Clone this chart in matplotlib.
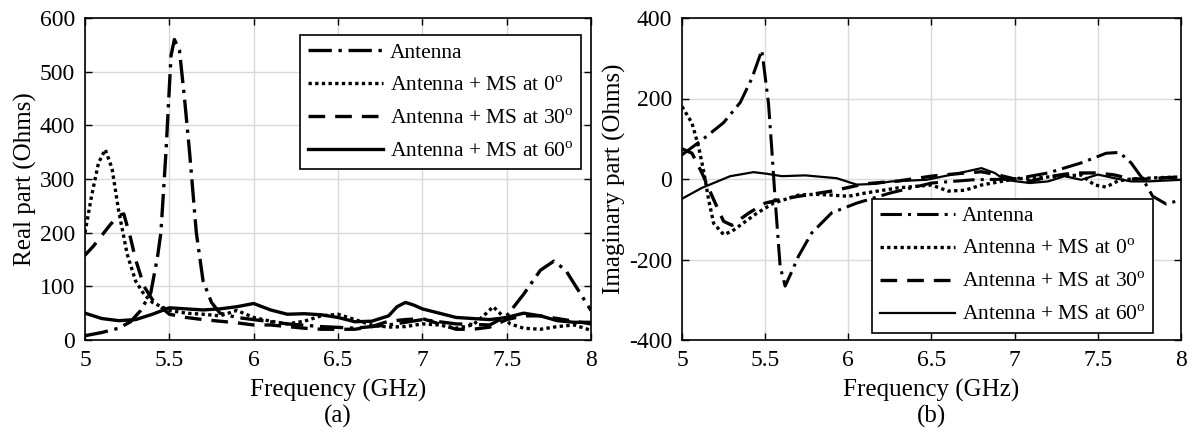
import numpy as np
import matplotlib
matplotlib.use("Agg")
import matplotlib.pyplot as plt

plt.rcParams["font.family"] = ["Liberation Serif", "DejaVu Serif"]
plt.rcParams["mathtext.fontset"] = "custom"
plt.rcParams["mathtext.rm"] = "Liberation Serif"
plt.rcParams["axes.unicode_minus"] = False

labels = ["Antenna", "Antenna + MS at 0$^{\\mathrm{o}}$",
          "Antenna + MS at 30$^{\\mathrm{o}}$", "Antenna + MS at 60$^{\\mathrm{o}}$"]

# (a) real part
re_ant_f = [5.0, 5.1, 5.2, 5.27, 5.33, 5.39, 5.43, 5.45, 5.48, 5.51, 5.53, 5.56, 5.59, 5.62, 5.66,
            5.70, 5.75, 5.8, 5.9, 6.0, 6.2, 6.4, 6.6, 6.8, 7.0, 7.2, 7.4, 7.5, 7.6, 7.7, 7.78,
            7.85, 7.92, 8.0]
re_ant = [8, 14, 22, 34, 55, 88, 155, 200, 350, 530, 560, 540, 450, 350, 200,
          110, 70, 50, 42, 38, 30, 25, 22, 28, 38, 30, 28, 45, 85, 130, 147,
          130, 95, 55]

re_ms0_f = [5.0, 5.04, 5.08, 5.12, 5.16, 5.2, 5.25, 5.3, 5.35, 5.4, 5.5, 5.6, 5.7, 5.8, 5.9, 6.0,
            6.1, 6.2, 6.3, 6.4, 6.5, 6.6, 6.7, 6.8, 6.9, 7.0, 7.1, 7.2, 7.3, 7.38, 7.42, 7.46,
            7.52, 7.6, 7.7, 7.8, 7.9, 8.0]
re_ms0 = [200, 270, 330, 355, 320, 240, 160, 110, 85, 70, 55, 50, 48, 45, 55, 42,
          35, 30, 35, 45, 48, 38, 28, 24, 25, 30, 28, 22, 28, 50, 62, 50,
          30, 22, 20, 25, 28, 18]

re_ms30_f = [5.0, 5.05, 5.1, 5.15, 5.2, 5.23, 5.27, 5.3, 5.35, 5.4, 5.5, 5.6, 5.7, 5.8, 5.9, 6.0,
             6.1, 6.2, 6.3, 6.4, 6.5, 6.6, 6.7, 6.8, 6.9, 7.0, 7.1, 7.2, 7.3, 7.4, 7.5, 7.6,
             7.7, 7.8, 7.9, 8.0]
re_ms30 = [158, 175, 195, 215, 232, 235, 190, 150, 100, 75, 48, 42, 38, 35, 32, 28,
           28, 25, 22, 20, 20, 20, 25, 35, 38, 40, 30, 20, 20, 24, 38, 45,
           45, 40, 35, 30]

re_ms60_f = [5.0, 5.1, 5.2, 5.3, 5.4, 5.5, 5.6, 5.7, 5.8, 5.9, 6.0, 6.1, 6.2, 6.3, 6.4, 6.5,
             6.6, 6.7, 6.8, 6.85, 6.9, 6.95, 7.0, 7.1, 7.2, 7.3, 7.4, 7.5, 7.6, 7.7, 7.8,
             7.9, 8.0]
re_ms60 = [50, 40, 36, 38, 48, 60, 58, 56, 58, 62, 68, 56, 48, 49, 47, 42,
           34, 35, 45, 62, 70, 65, 58, 50, 42, 40, 38, 42, 50, 45, 36,
           33, 33]

# (b) imaginary part
im_ant_f = [5.0, 5.12, 5.25, 5.35, 5.42, 5.48, 5.52, 5.54, 5.56, 5.59, 5.62, 5.66, 5.7, 5.78,
            5.9, 6.05, 6.25, 6.5, 6.75, 7.0, 7.2, 7.4, 7.55, 7.63, 7.7, 7.77, 7.83, 7.91, 8.0]
im_ant = [60, 97, 140, 190, 250, 320, 188, 73, -51, -217, -266, -230, -192, -134,
          -84, -60, -35, -10, -2, 0, 15, 40, 64, 66, 40, 0, -43, -62, -52]

im_ms0_f = [5.0, 5.06, 5.1, 5.13, 5.16, 5.19, 5.25, 5.3, 5.35, 5.45, 5.55, 5.7, 5.8, 5.9, 6.0,
            6.1, 6.3, 6.5, 6.6, 6.7, 6.8, 7.0, 7.2, 7.4, 7.48, 7.55, 7.62, 7.7, 7.85, 8.0]
im_ms0 = [180, 139, 80, 20, -51, -110, -138, -130, -115, -85, -60, -40, -38, -40, -43,
          -35, -22, -15, -30, -28, -15, 0, 5, 10, -15, -20, -5, 0, 3, 5]

im_ms30_f = [5.0, 5.06, 5.12, 5.19, 5.25, 5.3, 5.4, 5.5, 5.6, 5.7, 5.9, 6.1, 6.3, 6.5, 6.7,
             6.8, 6.9, 7.0, 7.1, 7.2, 7.3, 7.4, 7.5, 7.6, 7.7, 7.8, 7.9, 8.0]
im_ms30 = [75, 64, 15, -51, -105, -115, -85, -60, -50, -43, -30, -12, -5, 7, 15,
           18, 10, 0, -5, 5, 12, 15, 15, 10, 0, 0, 3, 5]

im_ms60_f = [5.0, 5.12, 5.29, 5.43, 5.51, 5.6, 5.74, 5.93, 6.05, 6.16, 6.26, 6.47, 6.67, 6.8,
             6.88, 6.94, 7.09, 7.2, 7.3, 7.4, 7.5, 7.6, 7.7, 7.8, 8.0]
im_ms60 = [-49, -22, 7, 17, 13, 7, 9, 2, -14, -12, -6, -2, 15, 27,
           15, -2, -10, -6, 7, -2, 11, 2, -6, -6, -2]

styles = [(0, (7, 2, 1, 2)), (0, (1, 1)), (0, (5, 3)), "-"]

fig = plt.figure(figsize=(11.89, 4.38), dpi=100)
ax1 = fig.add_axes([85 / 1189, 98 / 438, 506 / 1189, 322 / 438])
ax2 = fig.add_axes([682 / 1189, 98 / 438, 499 / 1189, 322 / 438])

for f, v, st, lab in zip([re_ant_f, re_ms0_f, re_ms30_f, re_ms60_f],
                         [re_ant, re_ms0, re_ms30, re_ms60], styles, labels):
    ax1.plot(f, v, color="black", label=lab, ls=st, lw=2.4)

right_lw = [2.2, 2.4, 2.4, 1.6]
for f, v, st, lab, lw in zip([im_ant_f, im_ms0_f, im_ms30_f, im_ms60_f],
                             [im_ant, im_ms0, im_ms30, im_ms60], styles, labels, right_lw):
    ax2.plot(f, v, color="black", label=lab, ls=st, lw=lw)

for ax in (ax1, ax2):
    ax.set_xlim(5, 8)
    ax.set_xticks([5, 5.5, 6, 6.5, 7, 7.5, 8])
    ax.set_xticklabels(["5", "5.5", "6", "6.5", "7", "7.5", "8"])
    ax.grid(True, color="#d9d9d9", lw=1)
    ax.set_axisbelow(True)
    ax.tick_params(direction="in", top=True, right=True, labelsize=17, length=5, width=1, pad=7)
    for s in ax.spines.values():
        s.set_linewidth(1.2)
    ax.set_xlabel("Frequency (GHz)", fontsize=18, labelpad=6)

ax1.set_ylim(0, 600)
ax1.set_yticks(range(0, 601, 100))
ax1.set_ylabel("Real part (Ohms)", fontsize=18, labelpad=2)
ax2.set_ylim(-400, 400)
ax2.set_yticks(range(-400, 401, 200))
ax2.set_ylabel("Imaginary part (Ohms)", fontsize=18, labelpad=2)

leg_kw = dict(fontsize=15.5, frameon=True, fancybox=False, framealpha=1, edgecolor="black",
              handlelength=3.5, handletextpad=0.3, labelspacing=0.6, borderaxespad=0,
              borderpad=0.35)
lg1 = ax1.legend(loc="upper right", bbox_to_anchor=(0.98, 0.947), **leg_kw)
lg2 = ax2.legend(loc="lower right", bbox_to_anchor=(0.944, 0.022), **leg_kw)
for lg in (lg1, lg2):
    lg.get_frame().set_linewidth(1.2)

fig.text((85 + 591) / 2 / 1189, 0.035, "(a)", ha="center", fontsize=18)
fig.text((682 + 1181) / 2 / 1189, 0.035, "(b)", ha="center", fontsize=18)

fig.savefig("out.png", dpi=100)
